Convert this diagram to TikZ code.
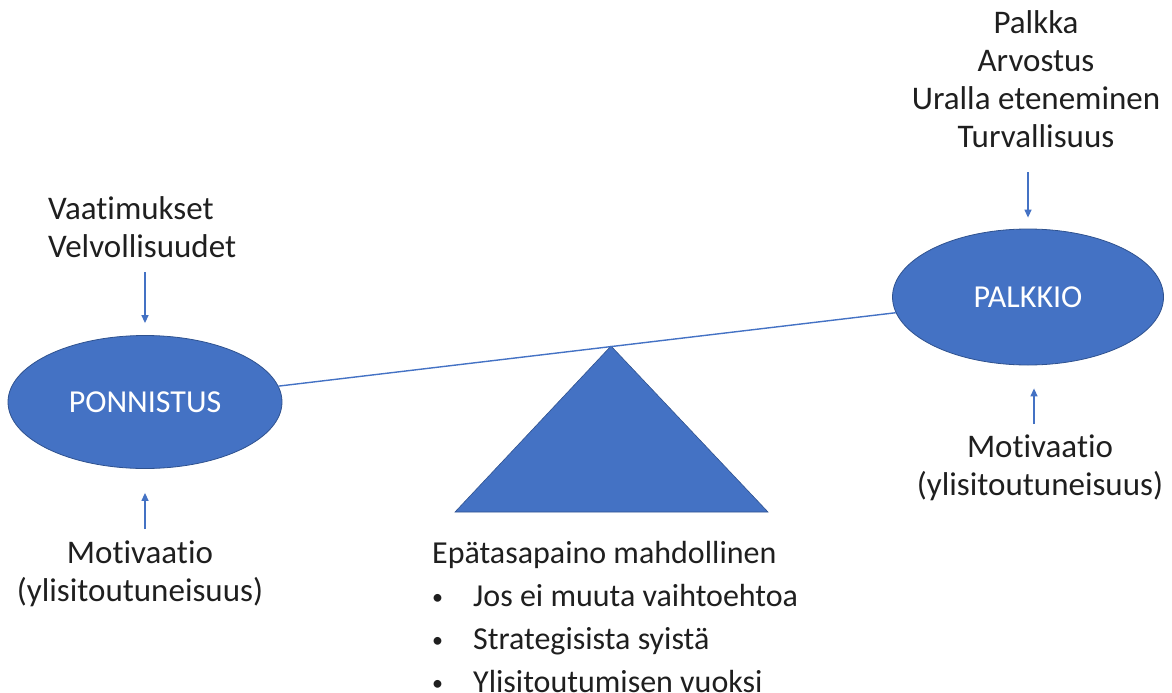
\documentclass[tikz,border=0pt]{standalone}
\usepackage{fontspec}
\setmainfont{Carlito}[Ligatures=NoCommon]
\usetikzlibrary{arrows.meta, positioning, shapes.geometric}
\definecolor{accent}{HTML}{4472C4}
\definecolor{rim}{HTML}{2F528F}
\newcommand{\dotmark}{\makebox[41pt][l]{\raisebox{2pt}{\fontsize{22}{22}\selectfont\textbullet}}}

\begin{document}
\begin{tikzpicture}[x=1pt, y=-1pt,
        blob/.style={ellipse, draw=rim, line width=0.8pt, fill=accent,
                     text=white, minimum width=274pt, minimum height=133pt,
                     inner sep=0pt, font=\fontsize{32}{38}\selectfont},
        txt/.style={inner sep=0pt, text=black!88,
                    font=\fontsize{33}{38}\selectfont},
        arr/.style={-{Triangle[length=8pt,width=7pt]}, line width=1.3pt, accent},
        beam/.style={line width=1.4pt, accent}]
      \useasboundingbox (0,0) rectangle (1172,693);
      \node[blob] (ponn) at (145,402) {PONNISTUS};
      \node[blob, minimum width=271pt, minimum height=136pt] (palk) at (1028,297) {PALKKIO};
      \node[txt, align=left, anchor=base west] (req) at (48,257) {Vaatimukset\\Velvollisuudet};
      \node[txt, align=center, anchor=base] (rew) at (1036,147) {Palkka\\Arvostus\\Uralla eteneminen\\Turvallisuus};
      \node[txt, align=center, anchor=base] (mot1) at (140,601) {Motivaatio\\(ylisitoutuneisuus)};
      \node[txt, align=center, anchor=base] (mot2) at (1040,495) {Motivaatio\\(ylisitoutuneisuus)};
      \node[txt, align=left, anchor=base west, font=\fontsize{32}{43}\selectfont] (imb) at (432,692)
        {Epätasapaino mahdollinen\\
         \dotmark Jos ei muuta vaihtoehtoa\\
         \dotmark Strategisista syistä\\
         \dotmark Ylisitoutumisen vuoksi};
      \coordinate (tip) at (611,346);
      \filldraw[fill=accent, draw=rim, line width=0.6pt] (455,512) -- (tip) -- (768,512) -- cycle;
      \draw[beam] (ponn) -- (palk);
      \draw[arr, shorten <=15pt, shorten >=12pt] (ponn.north |- req.south) -- (ponn.north);
      \draw[arr, shorten <=11pt, shorten >=24pt] (ponn.south |- mot1.north) -- (ponn.south);
      \draw[arr, shorten <=25pt, shorten >=11pt] (palk.north |- rew.south) -- (palk.north);
      \draw[arr, shorten <=10pt, shorten >=23pt] ([xshift=6pt]palk.south |- mot2.north) -- ([xshift=6pt]palk.south);
    \end{tikzpicture}
\end{document}
